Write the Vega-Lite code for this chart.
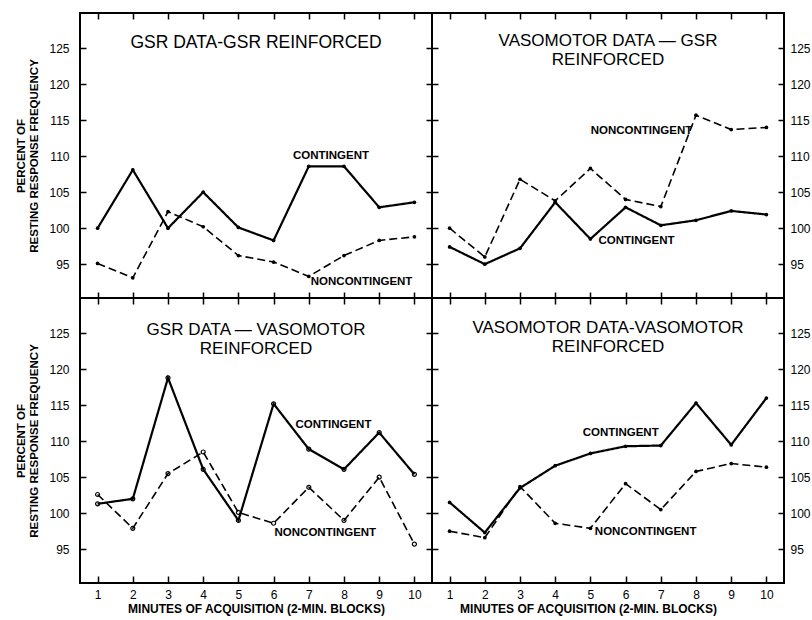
{
  "$schema": "https://vega.github.io/schema/vega-lite/v6.json",
  "background": "white",
  "padding": {"left": 14, "top": 11, "right": 2, "bottom": 4},
  "datasets": {
    "pts": [
      {"p":"A","s":"CONTINGENT","m":1,"v":100.0},{"p":"A","s":"CONTINGENT","m":2,"v":108.1},{"p":"A","s":"CONTINGENT","m":3,"v":100.0},{"p":"A","s":"CONTINGENT","m":4,"v":105.0},{"p":"A","s":"CONTINGENT","m":5,"v":100.1},{"p":"A","s":"CONTINGENT","m":6,"v":98.3},{"p":"A","s":"CONTINGENT","m":7,"v":108.6},{"p":"A","s":"CONTINGENT","m":8,"v":108.6},{"p":"A","s":"CONTINGENT","m":9,"v":102.9},{"p":"A","s":"CONTINGENT","m":10,"v":103.6},
      {"p":"A","s":"NONCONTINGENT","m":1,"v":95.1},{"p":"A","s":"NONCONTINGENT","m":2,"v":93.1},{"p":"A","s":"NONCONTINGENT","m":3,"v":102.3},{"p":"A","s":"NONCONTINGENT","m":4,"v":100.2},{"p":"A","s":"NONCONTINGENT","m":5,"v":96.2},{"p":"A","s":"NONCONTINGENT","m":6,"v":95.3},{"p":"A","s":"NONCONTINGENT","m":7,"v":93.3},{"p":"A","s":"NONCONTINGENT","m":8,"v":96.2},{"p":"A","s":"NONCONTINGENT","m":9,"v":98.3},{"p":"A","s":"NONCONTINGENT","m":10,"v":98.8},
      {"p":"B","s":"CONTINGENT","m":1,"v":97.4},{"p":"B","s":"CONTINGENT","m":2,"v":95.0},{"p":"B","s":"CONTINGENT","m":3,"v":97.2},{"p":"B","s":"CONTINGENT","m":4,"v":103.6},{"p":"B","s":"CONTINGENT","m":5,"v":98.5},{"p":"B","s":"CONTINGENT","m":6,"v":102.9},{"p":"B","s":"CONTINGENT","m":7,"v":100.4},{"p":"B","s":"CONTINGENT","m":8,"v":101.1},{"p":"B","s":"CONTINGENT","m":9,"v":102.4},{"p":"B","s":"CONTINGENT","m":10,"v":101.9},
      {"p":"B","s":"NONCONTINGENT","m":1,"v":100.0},{"p":"B","s":"NONCONTINGENT","m":2,"v":96.0},{"p":"B","s":"NONCONTINGENT","m":3,"v":106.8},{"p":"B","s":"NONCONTINGENT","m":4,"v":103.8},{"p":"B","s":"NONCONTINGENT","m":5,"v":108.3},{"p":"B","s":"NONCONTINGENT","m":6,"v":104.0},{"p":"B","s":"NONCONTINGENT","m":7,"v":103.0},{"p":"B","s":"NONCONTINGENT","m":8,"v":115.7},{"p":"B","s":"NONCONTINGENT","m":9,"v":113.7},{"p":"B","s":"NONCONTINGENT","m":10,"v":114.0},
      {"p":"C","s":"CONTINGENT","m":1,"v":101.3},{"p":"C","s":"CONTINGENT","m":2,"v":102.0},{"p":"C","s":"CONTINGENT","m":3,"v":118.8},{"p":"C","s":"CONTINGENT","m":4,"v":106.1},{"p":"C","s":"CONTINGENT","m":5,"v":99.0},{"p":"C","s":"CONTINGENT","m":6,"v":115.2},{"p":"C","s":"CONTINGENT","m":7,"v":108.9},{"p":"C","s":"CONTINGENT","m":8,"v":106.1},{"p":"C","s":"CONTINGENT","m":9,"v":111.2},{"p":"C","s":"CONTINGENT","m":10,"v":105.4},
      {"p":"C","s":"NONCONTINGENT","m":1,"v":102.6},{"p":"C","s":"NONCONTINGENT","m":2,"v":97.9},{"p":"C","s":"NONCONTINGENT","m":3,"v":105.5},{"p":"C","s":"NONCONTINGENT","m":4,"v":108.5},{"p":"C","s":"NONCONTINGENT","m":5,"v":100.1},{"p":"C","s":"NONCONTINGENT","m":6,"v":98.6},{"p":"C","s":"NONCONTINGENT","m":7,"v":103.6},{"p":"C","s":"NONCONTINGENT","m":8,"v":99.0},{"p":"C","s":"NONCONTINGENT","m":9,"v":105.0},{"p":"C","s":"NONCONTINGENT","m":10,"v":95.7},
      {"p":"D","s":"CONTINGENT","m":1,"v":101.5},{"p":"D","s":"CONTINGENT","m":2,"v":97.3},{"p":"D","s":"CONTINGENT","m":3,"v":103.5},{"p":"D","s":"CONTINGENT","m":4,"v":106.6},{"p":"D","s":"CONTINGENT","m":5,"v":108.3},{"p":"D","s":"CONTINGENT","m":6,"v":109.3},{"p":"D","s":"CONTINGENT","m":7,"v":109.4},{"p":"D","s":"CONTINGENT","m":8,"v":115.3},{"p":"D","s":"CONTINGENT","m":9,"v":109.5},{"p":"D","s":"CONTINGENT","m":10,"v":116.0},
      {"p":"D","s":"NONCONTINGENT","m":1,"v":97.5},{"p":"D","s":"NONCONTINGENT","m":2,"v":96.6},{"p":"D","s":"NONCONTINGENT","m":3,"v":103.7},{"p":"D","s":"NONCONTINGENT","m":4,"v":98.6},{"p":"D","s":"NONCONTINGENT","m":5,"v":97.9},{"p":"D","s":"NONCONTINGENT","m":6,"v":104.1},{"p":"D","s":"NONCONTINGENT","m":7,"v":100.5},{"p":"D","s":"NONCONTINGENT","m":8,"v":105.8},{"p":"D","s":"NONCONTINGENT","m":9,"v":106.9},{"p":"D","s":"NONCONTINGENT","m":10,"v":106.4}
    ],
    "lbl": [
      {"p":"A","x":7.63,"y":110.0,"t":"CONTINGENT"},{"p":"A","x":8.5,"y":92.5,"t":"NONCONTINGENT"},
      {"p":"B","x":6.45,"y":113.55,"t":"NONCONTINGENT"},{"p":"B","x":6.31,"y":98.2,"t":"CONTINGENT"},
      {"p":"C","x":7.7,"y":112.2,"t":"CONTINGENT"},{"p":"C","x":7.47,"y":97.25,"t":"NONCONTINGENT"},
      {"p":"D","x":5.86,"y":111.1,"t":"CONTINGENT"},{"p":"D","x":6.57,"y":97.4,"t":"NONCONTINGENT"}
    ]
  },
  "config": {
    "font": "Liberation Sans",
    "view": {"stroke": "black", "strokeWidth": 2},
    "axis": {"grid": false, "domain": false, "tickColor": "black", "tickWidth": 1.5, "labelColor": "black", "labelFont": "Liberation Sans", "labelFontSize": 12, "titleColor": "black", "titleFont": "Liberation Sans", "titleFontWeight": "bold", "titleFontSize": 10},
    "title": {"fontSize": 17, "fontWeight": "normal", "font": "Liberation Sans", "color": "black", "baseline": "top", "frame": "group", "anchor": "middle", "lineHeight": 19}
  },
  "spacing": 0,
  "bounds": "flush",
  "columns": 2,
  "concat": [
    {
      "width": 352, "height": 285,
      "title": {"text": "GSR DATA-GSR REINFORCED", "offset": -39, "fontSize": 17.5},
      "layer": [
        {"data": {"name": "pts"}, "transform": [{"filter": "datum.p == 'A'"}],
         "mark": {"type": "line", "color": "black"},
         "encoding": {
           "x": {"field": "m", "type": "quantitative", "scale": {"domain": [0.5, 10.5], "nice": false, "zero": false}, "axis": {"orient": "bottom", "values": [1,2,3,4,5,6,7,8,9,10], "labels": false, "title": null, "offset": -6, "tickSize": 12}},
           "y": {"field": "v", "type": "quantitative", "scale": {"domain": [90.3, 129.9], "nice": false, "zero": false}, "axis": {"orient": "left", "values": [95,100,105,110,115,120,125], "offset": -6, "tickSize": 7, "labelPadding": 10, "title": ["PERCENT OF", "RESTING RESPONSE FREQUENCY"], "titlePadding": 9, "titleFontSize": 11.5}},
           "strokeDash": {"field": "s", "type": "nominal", "scale": {"domain": ["CONTINGENT", "NONCONTINGENT"], "range": [[1, 0], [8, 4]]}, "legend": null},
           "strokeWidth": {"field": "s", "type": "nominal", "scale": {"domain": ["CONTINGENT", "NONCONTINGENT"], "range": [2.2, 1.6]}, "legend": null}
         }},
        {"data": {"name": "pts"}, "transform": [{"filter": "datum.p == 'A'"}],
         "mark": {"type": "point", "filled": true, "color": "black", "size": 14, "opacity": 1},
         "encoding": {
           "x": {"field": "m", "type": "quantitative", "scale": {"domain": [0.5, 10.5], "nice": false, "zero": false}, "axis": {"orient": "top", "values": [1,2,3,4,5,6,7,8,9,10], "labels": false, "title": null, "offset": -6, "tickSize": 6}},
           "y": {"field": "v", "type": "quantitative", "scale": {"domain": [90.3, 129.9], "nice": false, "zero": false}, "axis": null}
         }},
        {"data": {"name": "lbl"}, "transform": [{"filter": "datum.p == 'A'"}],
         "mark": {"type": "text", "fontWeight": "bold", "fontSize": 11.5, "color": "black", "font": "Liberation Sans"},
         "encoding": {
           "x": {"field": "x", "type": "quantitative", "scale": {"domain": [0.5, 10.5], "nice": false, "zero": false}, "axis": null},
           "y": {"field": "y", "type": "quantitative", "scale": {"domain": [90.3, 129.9], "nice": false, "zero": false}, "axis": null},
           "text": {"field": "t"}
         }}
      ],
      "resolve": {"axis": {"x": "independent", "y": "independent"}}
    },
    {
      "width": 352, "height": 285,
      "title": {"text": ["VASOMOTOR  DATA — GSR", "REINFORCED"], "offset": -57},
      "layer": [
        {"data": {"name": "pts"}, "transform": [{"filter": "datum.p == 'B'"}],
         "mark": {"type": "line", "color": "black"},
         "encoding": {
           "x": {"field": "m", "type": "quantitative", "scale": {"domain": [0.5, 10.5], "nice": false, "zero": false}, "axis": {"orient": "bottom", "values": [1,2,3,4,5,6,7,8,9,10], "labels": false, "title": null, "offset": -6, "tickSize": 12}},
           "y": {"field": "v", "type": "quantitative", "scale": {"domain": [90.3, 129.9], "nice": false, "zero": false}, "axis": {"orient": "left", "values": [95,100,105,110,115,120,125], "labels": false, "title": null, "offset": -6, "tickSize": 12}},
           "strokeDash": {"field": "s", "type": "nominal", "scale": {"domain": ["CONTINGENT", "NONCONTINGENT"], "range": [[1, 0], [8, 4]]}, "legend": null},
           "strokeWidth": {"field": "s", "type": "nominal", "scale": {"domain": ["CONTINGENT", "NONCONTINGENT"], "range": [2.2, 1.6]}, "legend": null}
         }},
        {"data": {"name": "pts"}, "transform": [{"filter": "datum.p == 'B'"}],
         "mark": {"type": "point", "filled": true, "color": "black", "size": 14, "opacity": 1},
         "encoding": {
           "x": {"field": "m", "type": "quantitative", "scale": {"domain": [0.5, 10.5], "nice": false, "zero": false}, "axis": {"orient": "top", "values": [1,2,3,4,5,6,7,8,9,10], "labels": false, "title": null, "offset": -6, "tickSize": 6}},
           "y": {"field": "v", "type": "quantitative", "scale": {"domain": [90.3, 129.9], "nice": false, "zero": false}, "axis": {"orient": "right", "values": [95,100,105,110,115,120,125], "title": null, "offset": -6, "tickSize": 6, "labelPadding": 6}}
         }},
        {"data": {"name": "lbl"}, "transform": [{"filter": "datum.p == 'B'"}],
         "mark": {"type": "text", "fontWeight": "bold", "fontSize": 11.5, "color": "black", "font": "Liberation Sans"},
         "encoding": {
           "x": {"field": "x", "type": "quantitative", "scale": {"domain": [0.5, 10.5], "nice": false, "zero": false}, "axis": null},
           "y": {"field": "y", "type": "quantitative", "scale": {"domain": [90.3, 129.9], "nice": false, "zero": false}, "axis": null},
           "text": {"field": "t"}
         }}
      ],
      "resolve": {"axis": {"x": "independent", "y": "independent"}}
    },
    {
      "width": 352, "height": 285,
      "title": {"text": ["GSR DATA — VASOMOTOR", "REINFORCED"], "offset": -60},
      "layer": [
        {"data": {"name": "pts"}, "transform": [{"filter": "datum.p == 'C'"}],
         "mark": {"type": "line", "color": "black"},
         "encoding": {
           "x": {"field": "m", "type": "quantitative", "scale": {"domain": [0.5, 10.5], "nice": false, "zero": false}, "axis": {"orient": "bottom", "values": [1,2,3,4,5,6,7,8,9,10], "title": "MINUTES OF ACQUISITION (2-MIN. BLOCKS)", "titleFontSize": 12, "offset": -7, "tickSize": 7, "labelPadding": 6, "titlePadding": 3}},
           "y": {"field": "v", "type": "quantitative", "scale": {"domain": [90.3, 129.9], "nice": false, "zero": false}, "axis": {"orient": "left", "values": [95,100,105,110,115,120,125], "offset": -6, "tickSize": 7, "labelPadding": 10, "title": ["PERCENT OF", "RESTING RESPONSE FREQUENCY"], "titlePadding": 9, "titleFontSize": 11.5}},
           "strokeDash": {"field": "s", "type": "nominal", "scale": {"domain": ["CONTINGENT", "NONCONTINGENT"], "range": [[1, 0], [8, 4]]}, "legend": null},
           "strokeWidth": {"field": "s", "type": "nominal", "scale": {"domain": ["CONTINGENT", "NONCONTINGENT"], "range": [1.8, 1.5]}, "legend": null}
         }},
        {"data": {"name": "pts"}, "transform": [{"filter": "datum.p == 'C'"}],
         "mark": {"type": "point", "filled": false, "color": "black", "size": 16, "strokeWidth": 1.2, "opacity": 1},
         "encoding": {
           "x": {"field": "m", "type": "quantitative", "scale": {"domain": [0.5, 10.5], "nice": false, "zero": false}, "axis": null},
           "y": {"field": "v", "type": "quantitative", "scale": {"domain": [90.3, 129.9], "nice": false, "zero": false}, "axis": null}
         }},
        {"data": {"name": "lbl"}, "transform": [{"filter": "datum.p == 'C'"}],
         "mark": {"type": "text", "fontWeight": "bold", "fontSize": 11.5, "color": "black", "font": "Liberation Sans"},
         "encoding": {
           "x": {"field": "x", "type": "quantitative", "scale": {"domain": [0.5, 10.5], "nice": false, "zero": false}, "axis": null},
           "y": {"field": "y", "type": "quantitative", "scale": {"domain": [90.3, 129.9], "nice": false, "zero": false}, "axis": null},
           "text": {"field": "t"}
         }}
      ],
      "resolve": {"axis": {"x": "independent", "y": "independent"}}
    },
    {
      "width": 352, "height": 285,
      "title": {"text": ["VASOMOTOR DATA-VASOMOTOR", "REINFORCED"], "offset": -58},
      "layer": [
        {"data": {"name": "pts"}, "transform": [{"filter": "datum.p == 'D'"}],
         "mark": {"type": "line", "color": "black"},
         "encoding": {
           "x": {"field": "m", "type": "quantitative", "scale": {"domain": [0.5, 10.5], "nice": false, "zero": false}, "axis": {"orient": "bottom", "values": [1,2,3,4,5,6,7,8,9,10], "title": "MINUTES OF ACQUISITION  (2-MIN. BLOCKS)", "titleFontSize": 12, "offset": -7, "tickSize": 7, "labelPadding": 6, "titlePadding": 3, "titleX": 156}},
           "y": {"field": "v", "type": "quantitative", "scale": {"domain": [90.3, 129.9], "nice": false, "zero": false}, "axis": {"orient": "left", "values": [95,100,105,110,115,120,125], "labels": false, "title": null, "offset": -6, "tickSize": 12}},
           "strokeDash": {"field": "s", "type": "nominal", "scale": {"domain": ["CONTINGENT", "NONCONTINGENT"], "range": [[1, 0], [8, 4]]}, "legend": null},
           "strokeWidth": {"field": "s", "type": "nominal", "scale": {"domain": ["CONTINGENT", "NONCONTINGENT"], "range": [2.2, 1.6]}, "legend": null}
         }},
        {"data": {"name": "pts"}, "transform": [{"filter": "datum.p == 'D'"}],
         "mark": {"type": "point", "filled": true, "color": "black", "size": 14, "opacity": 1},
         "encoding": {
           "x": {"field": "m", "type": "quantitative", "scale": {"domain": [0.5, 10.5], "nice": false, "zero": false}, "axis": null},
           "y": {"field": "v", "type": "quantitative", "scale": {"domain": [90.3, 129.9], "nice": false, "zero": false}, "axis": {"orient": "right", "values": [95,100,105,110,115,120,125], "title": null, "offset": -6, "tickSize": 6, "labelPadding": 6}}
         }},
        {"data": {"name": "lbl"}, "transform": [{"filter": "datum.p == 'D'"}],
         "mark": {"type": "text", "fontWeight": "bold", "fontSize": 11.5, "color": "black", "font": "Liberation Sans"},
         "encoding": {
           "x": {"field": "x", "type": "quantitative", "scale": {"domain": [0.5, 10.5], "nice": false, "zero": false}, "axis": null},
           "y": {"field": "y", "type": "quantitative", "scale": {"domain": [90.3, 129.9], "nice": false, "zero": false}, "axis": null},
           "text": {"field": "t"}
         }}
      ],
      "resolve": {"axis": {"x": "independent", "y": "independent"}}
    }
  ]
}
